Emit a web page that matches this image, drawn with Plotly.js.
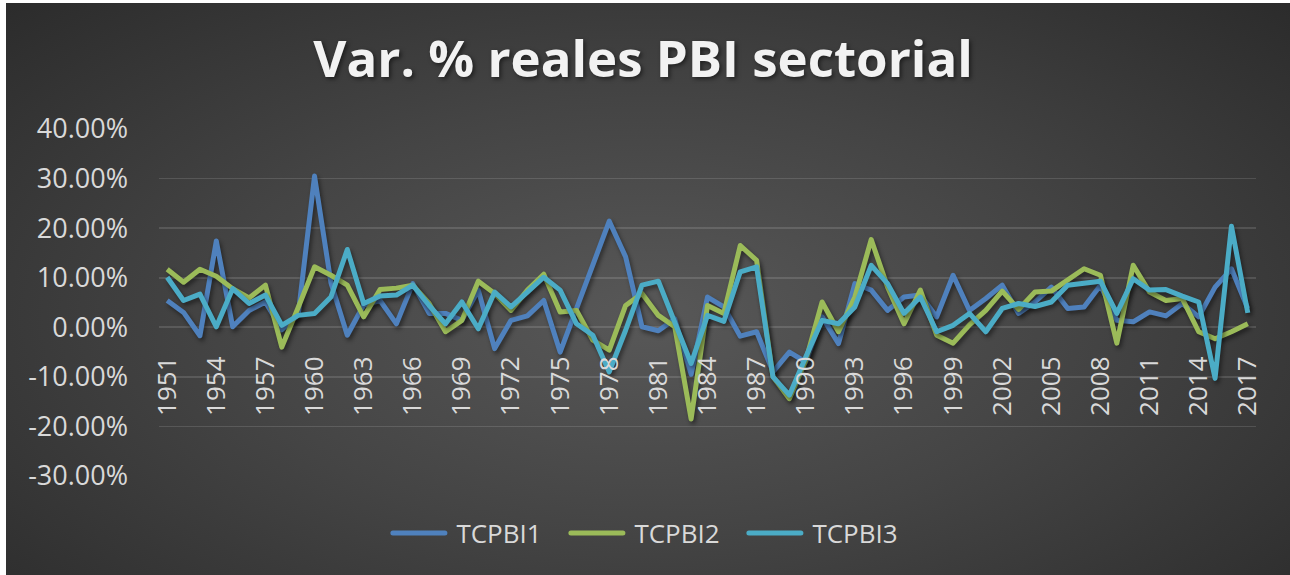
<!DOCTYPE html>
<html>
<head>
<meta charset="utf-8">
<script src="https://cdn.plot.ly/plotly-3.0.1.min.js"></script>
<style>
  html, body { margin: 0; padding: 0; background: #ffffff; }
  #bg { position: absolute; left: 6px; top: 3px; width: 1284px; height: 572px;
        background: radial-gradient(ellipse 75% 85% at 50% 55%, #585858 0%, #444444 45%, #282828 100%); }
  #chart { position: absolute; left: 0; top: 0; width: 1290px; height: 575px; }
  #chart .scatterlayer path.js-line { filter: drop-shadow(2px 3px 2px rgba(0,0,0,0.45)); stroke-linejoin: round; }
  #chart .gtitle { filter: drop-shadow(2px 2px 2px rgba(0,0,0,0.5)); }
</style>
</head>
<body>
<div id="bg"></div>
<div id="chart"></div>
<script>
const years = [];
for (let y = 1951; y <= 2017; y++) years.push(String(y));

const tcpbi1 = [5.4, 3.0, -1.7, 17.4, 0.1, 3.4, 5.1, -0.5, 2.5, 30.5,
  9.0, -1.6, 4.5, 5.4, 0.7, 8.8, 2.8, 2.8, 1.4, 7.5,
  -4.3, 1.4, 2.3, 5.4, -5.0, 3.8, 12.6, 21.4, 14.2, 0.1,
  -0.7, 1.7, -9.5, 6.1, 4.1, -1.8, -0.9, -9.0, -5.0, -7.0,
  2.1, -3.3, 8.8, 7.5, 3.4, 6.1, 6.5, 2.1, 10.5, 3.4,
  5.8, 8.5, 2.8, 5.1, 8.1, 3.8, 4.1, 8.5, 1.4, 1.1,
  3.1, 2.3, 4.8, 2.1, 8.1, 11.8, 3.8];

const tcpbi2 = [11.7, 9.1, 11.7, 10.3, 7.8, 5.9, 8.5, -4.0, 4.0, 12.2,
  10.5, 8.5, 2.1, 7.6, 7.9, 8.5, 4.8, -0.9, 1.4, 9.3,
  6.8, 3.4, 7.5, 10.7, 3.1, 3.4, -2.6, -4.6, 4.4, 6.8,
  2.4, 0.1, -18.5, 4.4, 2.8, 16.5, 13.5, -10.0, -14.4, -6.7,
  5.1, -0.9, 6.1, 17.7, 8.1, 0.7, 7.5, -1.6, -3.2, 0.5,
  3.4, 7.3, 3.6, 7.1, 7.3, 9.5, 11.8, 10.5, -3.2, 12.5,
  7.1, 5.4, 5.8, -0.9, -2.3, -0.9, 0.7];

const tcpbi3 = [10.1, 5.4, 6.7, 0.1, 7.8, 4.8, 6.5, 0.4, 2.4, 2.8,
  6.1, 15.7, 4.8, 6.3, 6.5, 8.5, 4.4, 0.7, 5.1, -0.3,
  7.1, 4.1, 7.1, 10.1, 7.5, 0.7, -1.6, -9.0, -0.6, 8.5,
  9.3, 0.7, -7.3, 2.4, 1.2, 11.2, 12.2, -10.0, -13.7, -6.0,
  1.4, 0.7, 4.1, 12.5, 8.8, 2.8, 6.1, -0.9, 0.4, 2.8,
  -0.9, 3.8, 4.8, 4.2, 5.1, 8.5, 8.9, 9.3, 2.8, 9.8,
  7.5, 7.6, 6.3, 5.1, -10.3, 20.4, 2.9];

const seriesNames = ["TCPBI1", "TCPBI2", "TCPBI3"];
const seriesColors = ["#4F81BD", "#9BBB59", "#4BACC6"];

const yTickVals = [-30, -20, -10, 0, 10, 20, 30, 40];
const yTickText = ["-30.00%", "-20.00%", "-10.00%", "0.00%", "10.00%", "20.00%", "30.00%", "40.00%"];

const allSeries = [tcpbi1, tcpbi2, tcpbi3];
const traces = allSeries.map((vals, k) => ({
  type: "scatter",
  mode: "lines",
  x: years,
  y: vals,
  name: seriesNames[k],
  line: { color: seriesColors[k], width: 5 },
  hoverinfo: "x+y+name"
}));

const layout = {
  width: 1290,
  height: 575,
  paper_bgcolor: "rgba(0,0,0,0)",
  plot_bgcolor: "rgba(0,0,0,0)",
  margin: { l: 159, r: 34, t: 128.5, b: 99.3, pad: 0 },
  font: { family: "Open Sans, sans-serif", color: "#d9d9d9" },
  title: {
    text: "<b>Var. % reales PBI sectorial</b>",
    font: { family: "Open Sans, sans-serif", size: 51, color: "#f2f2f2" },
    x: 0.4985, xanchor: "center",
    y: 0.897, yanchor: "middle",
    xref: "container", yref: "container"
  },
  xaxis: {
    type: "category",
    range: [-0.5, years.length - 0.5],
    anchor: "free",
    position: 30 / 70,
    tickmode: "linear",
    tick0: 0,
    dtick: 3,
    tickangle: -90,
    tickfont: { size: 26, color: "#d9d9d9" },
    showgrid: false,
    zeroline: false,
    showline: false,
    ticks: "",
    ticklabelstandoff: 23,
    fixedrange: true
  },
  yaxis: {
    range: [-30, 40],
    tickvals: yTickVals,
    ticktext: yTickText,
    tickfont: { size: 27, color: "#d9d9d9" },
    showgrid: true,
    gridcolor: "rgba(255,255,255,0.13)",
    gridwidth: 1.6,
    zeroline: false,
    showline: false,
    ticks: "",
    ticklabelstandoff: 30,
    fixedrange: true
  },
  showlegend: true,
  legend: {
    orientation: "h",
    xref: "container", yref: "container",
    x: 0.5065, xanchor: "center",
    y: 0.073, yanchor: "middle",
    font: { size: 26, color: "#d9d9d9" },
    bgcolor: "rgba(0,0,0,0)",
    entrywidth: 103,
    itemwidth: 60
  }
};

Plotly.newPlot("chart", traces, layout, { displayModeBar: false, staticPlot: true }).then(() => {
  document.querySelectorAll("#chart .legendlines path").forEach(p => {
    p.setAttribute("d", "M6.5,0h52");
    p.style.strokeLinecap = "round";
  });
});
</script>
</body>
</html>
